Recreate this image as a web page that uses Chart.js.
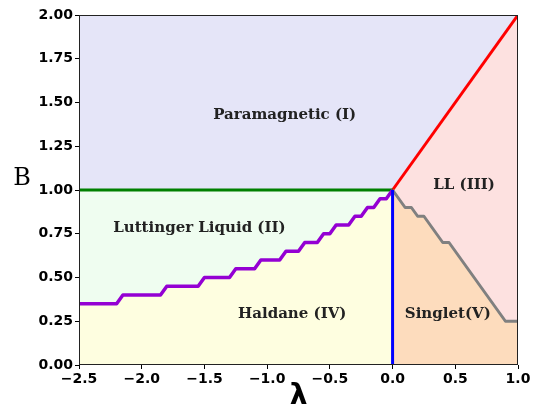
<!DOCTYPE html>
<html>
<head>
<meta charset="utf-8">
<script src="https://cdn.jsdelivr.net/npm/chart.js@4"></script>
<style>
  html, body { margin: 0; padding: 0; background: #fff; }
  #wrap { width: 536px; height: 409px; }
</style>
</head>
<body>
<div id="wrap"><canvas id="myChart" width="536" height="409"></canvas></div>
<script>
// axis ranges / ticks
var xMin = -2.5, xMax = 1.0, xStep = 0.5;
var yMin = 0, yMax = 2.0, yStep = 0.25;
var xTitle = '\u03bb', yTitle = 'B';

// II / IV boundary (purple staircase)
var haldaneLambda = [-2.5, -2.2, -2.15, -1.85, -1.8, -1.55, -1.5, -1.3, -1.25, -1.1, -1.05, -0.9, -0.85,
    -0.75, -0.7, -0.6, -0.55, -0.5, -0.45, -0.35, -0.3, -0.25, -0.2, -0.15, -0.1, -0.05, 0];
var haldaneB = [0.35, 0.35, 0.4, 0.4, 0.45, 0.45, 0.5, 0.5, 0.55, 0.55, 0.6, 0.6, 0.65,
    0.65, 0.7, 0.7, 0.75, 0.75, 0.8, 0.8, 0.85, 0.85, 0.9, 0.9, 0.95, 0.95, 1.0];

// III / V boundary (gray)
var singletLambda = [0, 0.1, 0.15, 0.2, 0.25, 0.4, 0.45, 0.9, 1.0];
var singletB = [1.0, 0.9, 0.9, 0.85, 0.85, 0.7, 0.7, 0.25, 0.25];

// I / II boundary (green), I / III boundary (red), IV / V boundary (blue)
var greenLambda = [-2.5, 0];
var greenB = [1.0, 1.0];
var redLambda = [0, 1.0];
var redB = [1.0, 2.0];
var blueLambda = [0, 0];
var blueB = [0, 1.0];
var topLambda = [-2.5, 1.0];
var topB = [2.0, 2.0];

// phase labels
var phaseNames = ['Paramagnetic (I)', 'LL (III)', 'Luttinger Liquid (II)', 'Haldane (IV)', 'Singlet(V)'];
var phaseLambda = [-0.86, 0.57, -1.54, -0.80, 0.44];
var phaseB = [1.43, 1.03, 0.78, 0.29, 0.29];

function pts(xs, ys) {
    var out = [];
    for (var i = 0; i < xs.length; i++) {
        out.push({x: xs[i], y: ys[i]});
    }
    return out;
}

function minus(v) {
    return String(v).replace('-', '\u2212');
}

var labelPlugin = {
    id: 'labels',
    afterDatasetsDraw: function(chart) {
        var ctx = chart.ctx;
        var a = chart.chartArea;
        var xs = chart.scales.x, ys = chart.scales.y;
        ctx.save();
        // frame
        ctx.strokeStyle = '#222';
        ctx.lineWidth = 1;
        ctx.strokeRect(a.left + 0.5, a.top + 0.5, a.right - a.left - 1, a.bottom - a.top - 1);
        // phase names
        ctx.fillStyle = '#222';
        ctx.font = 'bold 15px "DejaVu Serif"';
        ctx.textAlign = 'center';
        ctx.textBaseline = 'middle';
        for (var i = 0; i < phaseNames.length; i++) {
            ctx.fillText(phaseNames[i], xs.getPixelForValue(phaseLambda[i]), ys.getPixelForValue(phaseB[i]));
        }
        // axis titles (B is unrotated like the original)
        ctx.fillStyle = '#000';
        ctx.font = '24px "DejaVu Serif"';
        ctx.fillText(yTitle, 22, 179);
        ctx.font = 'bold 28px "DejaVu Sans"';
        ctx.fillText(xTitle, (a.left + a.right) / 2, 397);
        ctx.restore();
    }
};

var ctx = document.getElementById('myChart').getContext('2d');
var chart = new Chart(ctx, {
    type: 'line',
    data: {
        datasets: [{
            data: pts(topLambda, topB),
            borderWidth: 0,
            borderColor: 'rgba(0,0,0,0)',
            backgroundColor: '#e5e5f8',
            fill: 'origin',
            order: 6
        }, {
            data: pts(redLambda, redB),
            borderColor: '#ff0000',
            borderWidth: 3,
            backgroundColor: '#fde1e0',
            fill: 'origin',
            order: 5
        }, {
            data: pts(singletLambda, singletB),
            borderColor: '#808080',
            borderWidth: 3,
            backgroundColor: '#fddcbd',
            fill: 'origin',
            order: 4
        }, {
            data: pts(greenLambda, greenB),
            borderColor: '#008000',
            borderWidth: 3,
            backgroundColor: '#effdf0',
            fill: 'origin',
            order: 3
        }, {
            data: pts(haldaneLambda, haldaneB),
            borderColor: '#9400d3',
            borderWidth: 3.5,
            backgroundColor: '#fefee0',
            fill: 'origin',
            order: 2
        }, {
            data: pts(blueLambda, blueB),
            borderColor: '#0000ff',
            borderWidth: 3,
            fill: false,
            order: 1
        }]
    },
    options: {
        responsive: false,
        animation: false,
        events: [],
        layout: {
            padding: {left: 0, right: 18, top: 15, bottom: 0}
        },
        elements: {
            point: {radius: 0},
            line: {tension: 0, borderCapStyle: 'butt', borderJoinStyle: 'round'}
        },
        plugins: {
            legend: {display: false},
            tooltip: {enabled: false},
            filler: {drawTime: 'beforeDatasetsDraw'}
        },
        scales: {
            x: {
                type: 'linear',
                min: xMin,
                max: xMax,
                afterFit: function(s) { s.height = 44; },
                afterBuildTicks: function(s) {
                    var t = [];
                    for (var v = xMin; v <= xMax + 1e-9; v += xStep) t.push({value: Math.round(v * 10) / 10});
                    s.ticks = t;
                },
                ticks: {
                    color: '#000',
                    font: {family: '"DejaVu Sans"', size: 14, weight: 'bold'},
                    padding: 2,
                    maxRotation: 0,
                    callback: function(v) { return minus(v.toFixed(1)); }
                },
                grid: {drawOnChartArea: false, tickLength: 4, color: '#000'},
                border: {display: false}
            },
            y: {
                type: 'linear',
                min: yMin,
                max: yMax,
                afterFit: function(s) { s.width = 79; },
                afterBuildTicks: function(s) {
                    var t = [];
                    for (var v = yMin; v <= yMax + 1e-9; v += yStep) t.push({value: Math.round(v * 100) / 100});
                    s.ticks = t;
                },
                ticks: {
                    color: '#000',
                    font: {family: '"DejaVu Sans"', size: 14, weight: 'bold'},
                    padding: 2,
                    callback: function(v) { return v.toFixed(2); }
                },
                grid: {drawOnChartArea: false, tickLength: 4, color: '#000'},
                border: {display: false}
            }
        }
    },
    plugins: [labelPlugin]
});
</script>
</body>
</html>
